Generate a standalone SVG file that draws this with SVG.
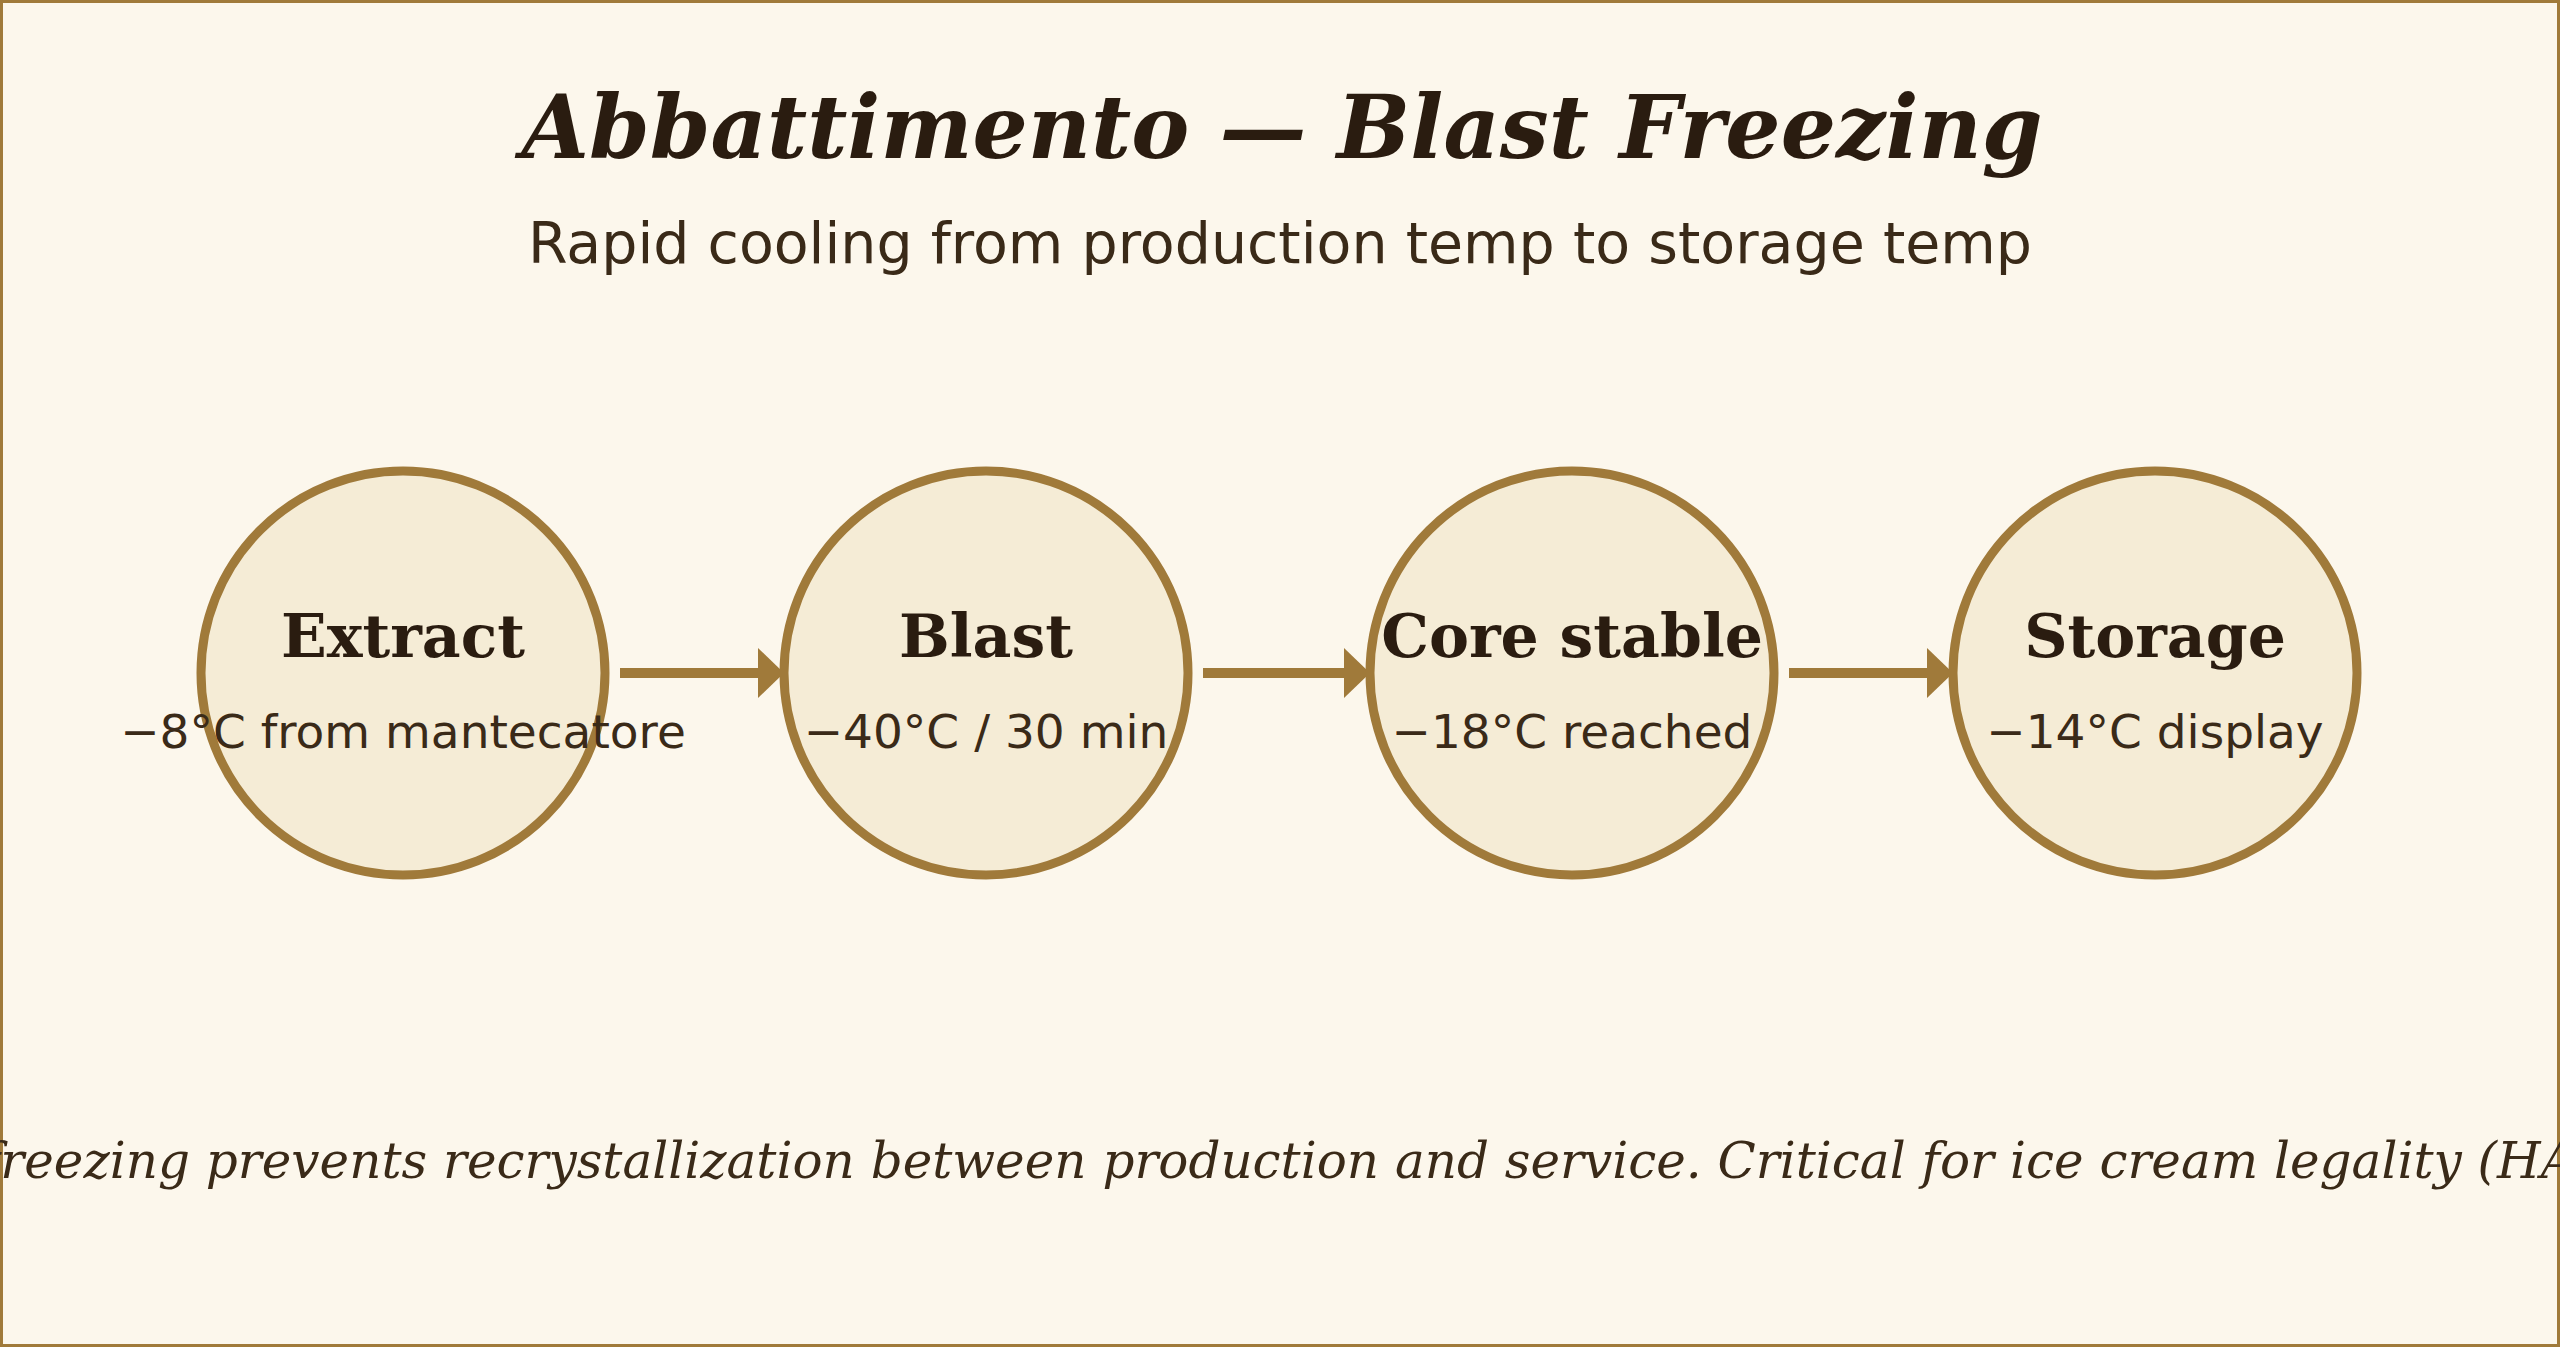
<svg xmlns="http://www.w3.org/2000/svg" width="2560" height="1347" viewBox="0 0 2560 1347">
<style>
.c{fill:#f5ecd6;stroke:#a07a3a;stroke-width:9}
.l{font-family:"DejaVu Serif",serif;font-weight:bold;font-size:60px;fill:#2a1c10;text-anchor:middle}
.s{font-family:"DejaVu Sans",sans-serif;font-size:47px;fill:#3a2a18;text-anchor:middle}
.a{stroke:#a07a3a;stroke-width:10;fill:none}
</style>
<defs><marker id="h" markerWidth="3" markerHeight="5" refX="0" refY="2.5" orient="auto" markerUnits="strokeWidth"><path d="M0,0L2.6,2.5L0,5Z" fill="#a07a3a"/></marker></defs>
<rect x="1.5" y="1.5" width="2557" height="1344" fill="#fcf7ec" stroke="#a07a3a" stroke-width="3"/>
<text x="1282" y="158" font-family="DejaVu Serif,serif" font-weight="bold" font-style="italic" font-size="87" fill="#2a1c10" text-anchor="middle">Abbattimento — Blast Freezing</text>
<text x="1280" y="263" font-family="DejaVu Sans,sans-serif" font-size="57" fill="#3a2a18" text-anchor="middle">Rapid cooling from production temp to storage temp</text>
<g id="connectors">
<line class="a" x1="620" y1="673" x2="758" y2="673" marker-end="url(#h)"/>
<line class="a" x1="1203" y1="673" x2="1344" y2="673" marker-end="url(#h)"/>
<line class="a" x1="1789" y1="673" x2="1927" y2="673" marker-end="url(#h)"/>
</g>
<g id="n1"><circle class="c" cx="403" cy="673" r="202"/><text class="l" x="403" y="657">Extract</text><text class="s" x="403" y="748">−8°C from mantecatore</text></g>
<g id="n2"><circle class="c" cx="986" cy="673" r="202"/><text class="l" x="986" y="657">Blast</text><text class="s" x="986" y="748">−40°C / 30 min</text></g>
<g id="n3"><circle class="c" cx="1572" cy="673" r="202"/><text class="l" x="1572" y="657">Core stable</text><text class="s" x="1572" y="748">−18°C reached</text></g>
<g id="n4"><circle class="c" cx="2155" cy="673" r="202"/><text class="l" x="2155" y="657">Storage</text><text class="s" x="2155" y="748">−14°C display</text></g>
<text x="1280" y="1178" font-family="DejaVu Serif,serif" font-style="italic" font-size="50" fill="#3a2a18" text-anchor="middle">Blast freezing prevents recrystallization between production and service. Critical for ice cream legality (HACCP).</text>
</svg>
